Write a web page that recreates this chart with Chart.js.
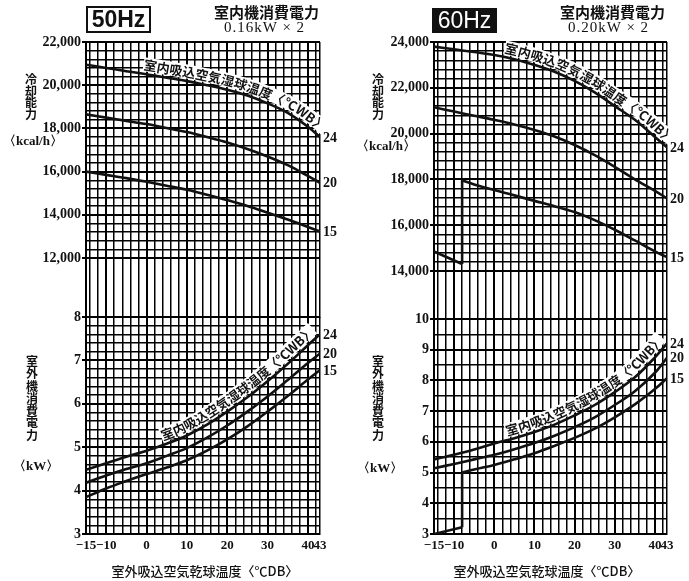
<!DOCTYPE html>
<html><head><meta charset="utf-8">
<script src="https://cdn.jsdelivr.net/npm/chart.js@4.4.1/dist/chart.umd.min.js"></script>
<style>
body{margin:0;background:#fff;width:689px;height:581px;overflow:hidden;position:relative;}
canvas{position:absolute;top:0;}
.t{position:absolute;white-space:nowrap;color:#111;}
.cjk{font-family:"Noto Sans CJK JP",sans-serif;font-weight:bold;}
.ser{font-family:"Liberation Serif",serif;font-weight:bold;}
.vt{text-align:center;width:14px;font-size:12px;}
</style></head><body>
<canvas id="cL1" width="344" height="581" style="left:0"></canvas>
<canvas id="cL2" width="344" height="581" style="left:0"></canvas>
<canvas id="cR1" width="345" height="581" style="left:344px"></canvas>
<canvas id="cR2" width="345" height="581" style="left:344px"></canvas>

<div class="t" style="left:86px;top:6px;width:61px;height:23px;border:2px solid #111;font:bold 23px 'Liberation Sans',sans-serif;line-height:23px;text-align:center;">50Hz</div>
<div class="t cjk" style="left:214px;top:1px;font-size:15px;">室内機消費電力</div>
<div class="t ser" style="left:224px;top:19px;font-size:15px;font-weight:normal;letter-spacing:1px;">0.16kW × 2</div>
<div class="t vt cjk" style="left:24px;top:73px;line-height:11.5px;">冷<br>却<br>能<br>力</div>
<div class="t ser" style="left:3px;top:132px;font-size:13px;">〈kcal/h〉</div>
<div class="t vt cjk" style="left:25px;top:355px;line-height:12.3px;">室<br>外<br>機<br>消<br>費<br>電<br>力</div>
<div class="t ser" style="left:13px;top:457px;font-size:13px;">〈kW〉</div>
<div class="t cjk" style="left:110px;top:561px;width:190px;text-align:center;font-size:13px;font-weight:500;">室外吸込空気乾球温度〈℃DB〉</div>

<div class="t" style="left:432px;top:8px;width:65px;height:25px;background:#111;color:#fff;font:23px 'Liberation Sans',sans-serif;line-height:25px;text-align:center;">60Hz</div>
<div class="t cjk" style="left:560px;top:1px;font-size:15px;">室内機消費電力</div>
<div class="t ser" style="left:568px;top:19px;font-size:15px;font-weight:normal;letter-spacing:1px;">0.20kW × 2</div>
<div class="t vt cjk" style="left:371px;top:73px;line-height:11.5px;">冷<br>却<br>能<br>力</div>
<div class="t ser" style="left:356px;top:137px;font-size:13px;">〈kcal/h〉</div>
<div class="t vt cjk" style="left:371px;top:355px;line-height:12.3px;">室<br>外<br>機<br>消<br>費<br>電<br>力</div>
<div class="t ser" style="left:357px;top:459px;font-size:13px;">〈kW〉</div>
<div class="t cjk" style="left:452px;top:561px;width:190px;text-align:center;font-size:13px;font-weight:500;">室外吸込空気乾球温度〈℃DB〉</div>

<script>
// ---------- data ----------
const xVals = [-15,-10,-5,0,5,10,15,20,25,30,35,40,43];
const xTickValues = [-15,-10,0,10,20,30,40,43];
const xTickLabels = ['−15','−10','0','10','20','30','40','43'];
const curveNames = ['24','20','15'];
const curveTitle = '室内吸込空気湿球温度〈℃WB〉';

// 50Hz cooling capacity (kcal/h)
const cap50_24 = [20950,20800,20650,20510,20350,20190,20000,19790,19520,19160,18720,18080,17600];
const cap50_20 = [18650,18500,18350,18200,18020,17830,17600,17350,17050,16700,16300,15800,15480];
const cap50_15 = [16000,15850,15700,15530,15350,15160,14930,14680,14410,14100,13780,13440,13220];
// 50Hz outdoor unit power (kW)
const pow50_24 = [4.48,4.63,4.78,4.92,5.08,5.27,5.52,5.82,6.15,6.52,6.92,7.35,7.60];
const pow50_20 = [4.18,4.35,4.50,4.63,4.80,4.98,5.22,5.50,5.82,6.17,6.55,6.94,7.16];
const pow50_15 = [3.85,4.05,4.22,4.38,4.53,4.70,4.92,5.18,5.48,5.82,6.18,6.56,6.78];

// 60Hz cooling capacity (kcal/h)
const cap60_24 = [23800,23680,23560,23430,23250,23000,22700,22300,21800,21200,20600,19850,19400];
const cap60_20 = [21150,20960,20780,20600,20400,20160,19870,19500,19060,18550,18000,17500,17170];
const x60_15lo = [-15,-8];
const cap60_15lo = [14850,14300];
const x60_15hi = [-8,-5,0,5,10,15,20,25,30,35,40,43];
const cap60_15hi = [17950,17780,17530,17300,17060,16830,16570,16220,15800,15330,14850,14600];
// 60Hz outdoor unit power (kW)
const pow60_24 = [5.43,5.58,5.75,5.95,6.12,6.32,6.56,6.86,7.2,7.62,8.1,8.75,9.21];
const pow60_20 = [5.14,5.28,5.43,5.58,5.76,5.96,6.2,6.48,6.8,7.2,7.65,8.25,8.74];
const pow60_15lo = [3.0,3.22];
const pow60_15hi = [5.0,5.1,5.25,5.43,5.63,5.87,6.13,6.43,6.8,7.22,7.72,8.07];

// axis tick values / labels
const cap50Labels = [12000,14000,16000,18000,20000,22000];
const cap60Labels = [14000,16000,18000,20000,22000,24000];
const pow50Labels = [3,4,5,6,7,8];
const pow60Labels = [3,4,5,6,7,8,9,10];

// ---------- helpers ----------
const INK = '#111';
const GRID = '#000';
Chart.defaults.font.family = '"Liberation Serif", serif';
Chart.defaults.font.size = 14;
Chart.defaults.font.weight = 'bold';
Chart.defaults.color = INK;

function range(a, b, step) { const out = []; for (let i = 0; a + i * step <= b + 1e-9; i++) out.push(+(a + i * step).toFixed(4)); return out; }
const xGrid = [-15].concat(range(-14, 42, 2), [43]);

function pts(xs, ys) { return xs.map((x, i) => ({x, y: ys[i]})); }
function line(data, tension) {
  return {data, borderColor: INK, borderWidth: 2.6, pointRadius: 0, fill: false, tension: tension === undefined ? 0.35 : tension};
}
function fmt(v) { return v >= 1000 ? v.toLocaleString('en-US') : String(v); }

function sampleCurve(meta) {
  const d = meta.data, out = [[d[0].x, d[0].y]];
  for (let i = 1; i < d.length; i++) {
    const p = d[i - 1], q = d[i];
    const c1x = p.cp2x ?? p.x, c1y = p.cp2y ?? p.y, c2x = q.cp1x ?? q.x, c2y = q.cp1y ?? q.y;
    for (let k = 1; k <= 12; k++) {
      const t = k / 12, u = 1 - t;
      out.push([u*u*u*p.x + 3*u*u*t*c1x + 3*u*t*t*c2x + t*t*t*q.x,
                u*u*u*p.y + 3*u*u*t*c1y + 3*u*t*t*c2y + t*t*t*q.y]);
    }
  }
  return out;
}

function drawCurveText(chart, dsIndex, text, startX, size, lift) {
  const ctx = chart.ctx;
  const poly = sampleCurve(chart.getDatasetMeta(dsIndex));
  const cum = [0];
  for (let i = 1; i < poly.length; i++) cum.push(cum[i-1] + Math.hypot(poly[i][0]-poly[i-1][0], poly[i][1]-poly[i-1][1]));
  const sx = chart.scales.x.getPixelForValue(startX);
  let s = 0;
  for (let i = 1; i < poly.length; i++) {
    if (poly[i][0] >= sx) { const f = (sx - poly[i-1][0]) / (poly[i][0] - poly[i-1][0]); s = cum[i-1] + f * (cum[i] - cum[i-1]); break; }
  }
  function at(len) {
    let i = 1; while (i < cum.length - 1 && cum[i] < len) i++;
    const f = (len - cum[i-1]) / ((cum[i] - cum[i-1]) || 1);
    const x = poly[i-1][0] + f * (poly[i][0] - poly[i-1][0]);
    const y = poly[i-1][1] + f * (poly[i][1] - poly[i-1][1]);
    return [x, y, Math.atan2(poly[i][1] - poly[i-1][1], poly[i][0] - poly[i-1][0])];
  }
  ctx.save();
  ctx.font = 'bold ' + size + 'px "Noto Sans CJK JP", sans-serif';
  ctx.textAlign = 'center';
  ctx.textBaseline = 'ideographic';
  for (const ch of text) {
    const w = ctx.measureText(ch).width;
    const [x, y, a] = at(s + w / 2);
    ctx.save();
    ctx.translate(x, y); ctx.rotate(a);
    ctx.fillStyle = '#fff';
    ctx.fillRect(-w / 2 - 0.5, -lift - size - 1, w + 1, size + 1);
    ctx.fillStyle = INK;
    ctx.fillText(ch, 0, -lift);
    ctx.restore();
    s += w;
  }
  ctx.restore();
}

function drawEndLabels(chart, list) {
  const ctx = chart.ctx;
  ctx.save();
  ctx.font = 'bold 14px "Liberation Serif", serif';
  ctx.fillStyle = INK; ctx.textAlign = 'left'; ctx.textBaseline = 'middle';
  list.forEach(([ds, txt]) => {
    const d = chart.getDatasetMeta(ds).data; const p = d[d.length - 1];
    ctx.fillText(txt, p.x + 3, p.y + 1);
  });
  ctx.restore();
}

function makeChart(id, o) {
  const yGrid = o.yGrid;
  return new Chart(document.getElementById(id), {
    type: 'line',
    data: {datasets: o.datasets},
    options: {
      responsive: false, animation: false, devicePixelRatio: 1,
      layout: {padding: o.padding},
      plugins: {legend: {display: false}, tooltip: {enabled: false}},
      scales: {
        x: {
          type: 'linear', min: -15, max: 43,
          afterBuildTicks: s => { s.ticks = xGrid.map(v => ({value: v})); },
          afterFit: s => { s.height = o.xHeight; },
          border: {display: true, color: GRID, width: 2},
          grid: {color: GRID, drawTicks: false,
                 lineWidth: c => (c.tick && c.tick.value % 10 === 0) ? 2 : 1.5},
          ticks: {display: o.xTicks, autoSkip: false, maxRotation: 0, padding: 4, font: {size: 13},
                  callback: v => { const i = xTickValues.indexOf(v); return i >= 0 ? xTickLabels[i] : ''; }}
        },
        y: {
          type: 'linear', min: o.yMin, max: o.yMax,
          afterBuildTicks: s => { s.ticks = yGrid.map(v => ({value: v})); },
          afterFit: s => { s.width = o.yWidth; },
          border: {display: true, color: GRID, width: 2},
          grid: {color: GRID, tickLength: 4,
                 lineWidth: c => (c.tick && o.yLabels.includes(c.tick.value)) ? 2 : 1.5,
                 tickColor: c => (c.tick && o.yLabels.includes(c.tick.value)) ? GRID : 'rgba(0,0,0,0)'},
          ticks: {autoSkip: false, padding: 1,
                  callback: v => o.yLabels.includes(v) ? fmt(v) : ''}
        }
      }
    },
    plugins: [{id: 'annot', afterDatasetsDraw: c => { if (o.curveText !== undefined) drawCurveText(c, 0, curveTitle, o.curveText, 13, 2.5); drawEndLabels(c, o.ends); }}]
  });
}

// ----- 50Hz -----
makeChart('cL1', {
  datasets: [line(pts(xVals, cap50_24)), line(pts(xVals, cap50_20)), line(pts(xVals, cap50_15))],
  padding: {top: 42, bottom: 264, left: 0, right: 24},
  yMin: 9270, yMax: 22000, yGrid: range(12000, 22000, 400), yLabels: cap50Labels,
  yWidth: 86, xHeight: 0, xTicks: false, curveText: -1,
  ends: [[0, curveNames[0]], [1, curveNames[1]], [2, curveNames[2]]]
});
makeChart('cL2', {
  datasets: [line(pts(xVals, pow50_24)), line(pts(xVals, pow50_20)), line(pts(xVals, pow50_15))],
  padding: {top: 317, bottom: 0, left: 0, right: 24},
  yMin: 3, yMax: 8, yGrid: range(3, 8, 0.2), yLabels: pow50Labels,
  yWidth: 86, xHeight: 47, xTicks: true, curveText: 4.5,
  ends: [[0, curveNames[0]], [1, curveNames[1]], [2, curveNames[2]]]
});

// ----- 60Hz -----
makeChart('cR1', {
  datasets: [line(pts(xVals, cap60_24)), line(pts(xVals, cap60_20)),
             line(pts(x60_15hi, cap60_15hi)), line(pts(x60_15lo, cap60_15lo), 0),
             line([{x: x60_15lo[1], y: cap60_15lo[1]}, {x: x60_15hi[0], y: cap60_15hi[0]}], 0)],
  padding: {top: 42, bottom: 262, left: 0, right: 22},
  yMin: 11900, yMax: 24000, yGrid: range(14000, 24000, 400), yLabels: cap60Labels,
  yWidth: 90, xHeight: 0, xTicks: false, curveText: 2.2,
  ends: [[0, curveNames[0]], [1, curveNames[1]], [2, curveNames[2]]]
});
makeChart('cR2', {
  datasets: [line(pts(xVals, pow60_24)), line(pts(xVals, pow60_20)),
             line(pts(x60_15hi, pow60_15hi)), line(pts(x60_15lo, pow60_15lo), 0),
             line([{x: x60_15lo[1], y: pow60_15lo[1]}, {x: x60_15hi[0], y: pow60_15hi[0]}], 0)],
  padding: {top: 319, bottom: 0, left: 0, right: 22},
  yMin: 3, yMax: 10, yGrid: range(3, 10, 0.5), yLabels: pow60Labels,
  yWidth: 90, xHeight: 47, xTicks: true, curveText: 3.5,
  ends: [[0, curveNames[0]], [1, curveNames[1]], [2, curveNames[2]]]
});
</script>
</body></html>
